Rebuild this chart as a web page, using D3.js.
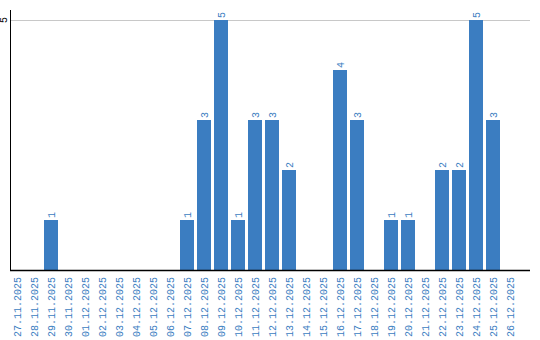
<!DOCTYPE html>
<html><head><meta charset="utf-8">
<script src="https://cdn.jsdelivr.net/npm/d3@7"></script>
<style>body{margin:0;background:#fff}svg{display:block}</style>
</head><body>
<svg id="c" width="540" height="340"></svg>
<script>
const dates = ["27.11.2025","28.11.2025","29.11.2025","30.11.2025","01.12.2025","02.12.2025","03.12.2025","04.12.2025","05.12.2025","06.12.2025","07.12.2025","08.12.2025","09.12.2025","10.12.2025","11.12.2025","12.12.2025","13.12.2025","14.12.2025","15.12.2025","16.12.2025","17.12.2025","18.12.2025","19.12.2025","20.12.2025","21.12.2025","22.12.2025","23.12.2025","24.12.2025","25.12.2025","26.12.2025"];
const counts = [0,0,1,0,0,0,0,0,0,0,1,3,5,1,3,3,2,0,0,4,3,0,1,1,0,2,2,5,3,0];
const yTicks = [5];

const svg = d3.select("#c");
const blue = "#3b7dc1";
const font = "'Liberation Mono', 'DejaVu Sans Mono', monospace";
const x = d3.scaleBand().domain(dates).range([10, 520]).padding(0);
const bw = x.bandwidth() - 3;
const y = d3.scaleLinear().domain([0, 5.2]).range([270, 10]);

svg.selectAll("line.grid").data(yTicks).join("line")
  .attr("x1", 11).attr("x2", 530)
  .attr("y1", d => Math.round(y(d)) + 0.5).attr("y2", d => Math.round(y(d)) + 0.5)
  .attr("stroke", "#c8c8c8").attr("stroke-width", 1);

svg.selectAll("text.yt").data(yTicks).join("text")
  .attr("transform", d => `translate(7,${y(d)}) rotate(-90)`)
  .attr("text-anchor", "middle")
  .attr("font-family", font).attr("font-size", 10).attr("fill", "#000")
  .text(d => d);

svg.selectAll("rect.bar").data(dates).join("rect")
  .attr("x", d => x(d))
  .attr("width", bw)
  .attr("y", (d, i) => y(counts[i]))
  .attr("height", (d, i) => y(0) - y(counts[i]))
  .attr("fill", blue);

svg.selectAll("text.val").data(dates.filter((d, i) => counts[i] > 0)).join("text")
  .attr("transform", d => { const i = dates.indexOf(d); return `translate(${x(d) + bw/2 + 3.5},${y(counts[i]) - 2}) rotate(-90)`; })
  .attr("text-anchor", "start")
  .attr("font-family", font).attr("font-size", 10).attr("fill", blue)
  .text(d => counts[dates.indexOf(d)]);

svg.append("line").attr("x1", 10.5).attr("x2", 10.5).attr("y1", 10).attr("y2", 270.5)
  .attr("stroke", "#000").attr("stroke-width", 1);
svg.append("line").attr("x1", 10).attr("x2", 530).attr("y1", 270.5).attr("y2", 270.5)
  .attr("stroke", "#000").attr("stroke-width", 1.5);

svg.selectAll("text.xl").data(dates).join("text")
  .attr("transform", d => `translate(${x(d) + bw/2 + 3.5},277) rotate(-90)`)
  .attr("text-anchor", "end")
  .attr("font-family", font).attr("font-size", 10).attr("fill", blue)
  .text(d => d);
</script>
</body></html>
